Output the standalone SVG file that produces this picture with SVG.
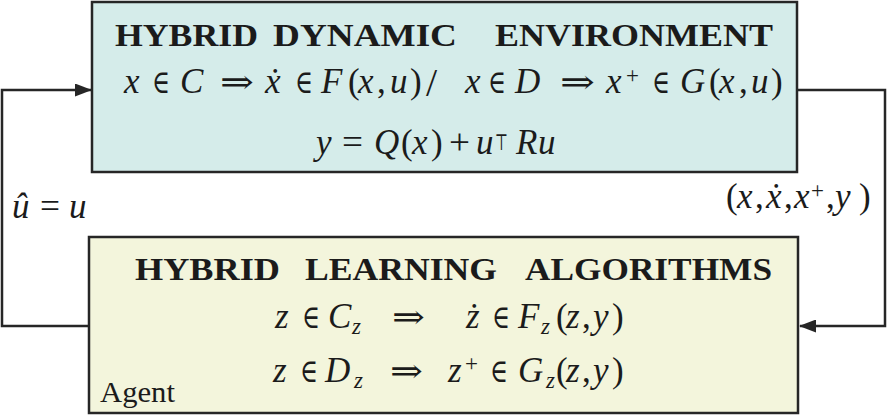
<svg xmlns="http://www.w3.org/2000/svg" width="888" height="416" viewBox="0 0 888 416">
<defs>
<style>
.t{font-family:"Liberation Serif","DejaVu Serif",serif;fill:#1b1b1b}
.mi{font-style:italic;font-size:35px}
.mr{font-size:35px}
.sy{font-family:"DejaVu Serif","Liberation Serif",serif;font-size:33px;fill:#1b1b1b}
.sp{font-size:23px}
.sb{font-style:italic;font-size:23px}
.hd{font-family:"Liberation Serif","DejaVu Serif",serif;font-weight:bold;font-size:31px;fill:#1b1b1b}
.box{stroke:#262626;stroke-width:2.5}
.wire{fill:none;stroke:#262626;stroke-width:2.5}
</style>
<marker id="ah" markerWidth="17" markerHeight="13" refX="16" refY="6.5" orient="auto" markerUnits="userSpaceOnUse">
<path d="M0,0 L17,6.5 L0,13 z" fill="#262626"/>
</marker>
</defs>
<rect width="888" height="416" fill="#ffffff"/>

<g id="connectors">
<path class="wire" d="M89,326 H2 V90 H91" marker-end="url(#ah)"/>
<path class="wire" d="M797,90 H885 V326 H800" marker-end="url(#ah)"/>
<g id="label-u">
<text class="t mi" x="12" y="218">û</text>
<text class="t mr" x="40" y="218" textLength="20" lengthAdjust="spacingAndGlyphs">=</text>
<text class="t mi" x="69" y="218">u</text>
</g>
<g id="label-state">
<text class="t" y="208"><tspan class="mr" x="726">(</tspan><tspan class="mi" x="737">x</tspan><tspan class="mr" x="755">,</tspan><tspan class="mi" x="766">ẋ</tspan><tspan class="mr" x="784">,</tspan><tspan class="mi" x="794">x</tspan><tspan class="sp" x="811" y="198">+</tspan><tspan class="mr" x="826" y="208">,</tspan><tspan class="mi" x="835">y</tspan><tspan class="mr" x="859">)</tspan></text>
</g>
</g>

<g id="env">
<rect class="box" x="92" y="2" width="705" height="170" fill="#d5ecea"/>
<text class="hd" x="115" y="46" textLength="143" lengthAdjust="spacingAndGlyphs">HYBRID</text>
<text class="hd" x="273" y="46" textLength="184" lengthAdjust="spacingAndGlyphs">DYNAMIC</text>
<text class="hd" x="495" y="46" textLength="278" lengthAdjust="spacingAndGlyphs">ENVIRONMENT</text>
<text class="t" y="93"><tspan class="mi" x="124">x</tspan><tspan class="mi" x="180">C</tspan><tspan class="mi" x="265">ẋ</tspan><tspan class="mi" x="321">F</tspan><tspan class="mr" x="348">(</tspan><tspan class="mi" x="358">x</tspan><tspan class="mr" x="377">,</tspan><tspan class="mi" x="390">u</tspan><tspan class="mr" x="410">)</tspan><tspan class="mi" x="465">x</tspan><tspan class="mi" x="515">D</tspan><tspan class="mi" x="606">x</tspan><tspan class="sp" x="626" y="83">+</tspan><tspan class="mi" x="680" y="93">G</tspan><tspan class="mr" x="709">(</tspan><tspan class="mi" x="719">x</tspan><tspan class="mr" x="739">,</tspan><tspan class="mi" x="751">u</tspan><tspan class="mr" x="771">)</tspan></text>
<text class="t" x="426" y="96" style="font-size:40px">/</text>
<text class="sy" x="152" y="93" textLength="18" lengthAdjust="spacingAndGlyphs">∈</text>
<text class="sy" x="295" y="93" textLength="18" lengthAdjust="spacingAndGlyphs">∈</text>
<text class="sy" x="488" y="93" textLength="18" lengthAdjust="spacingAndGlyphs">∈</text>
<text class="sy" x="652" y="93" textLength="18" lengthAdjust="spacingAndGlyphs">∈</text>
<text class="sy" x="220" y="93" textLength="34" lengthAdjust="spacingAndGlyphs">⇒</text>
<text class="sy" x="560" y="93" textLength="35" lengthAdjust="spacingAndGlyphs">⇒</text>
<text class="t" y="154"><tspan class="mi" x="316">y</tspan><tspan class="mi" x="374">Q</tspan><tspan class="mr" x="401">(</tspan><tspan class="mi" x="412">x</tspan><tspan class="mr" x="431">)</tspan><tspan class="mi" x="476">u</tspan><tspan class="mi" x="516">R</tspan><tspan class="mi" x="538">u</tspan></text>
<text class="t mr" x="342" y="154" textLength="21" lengthAdjust="spacingAndGlyphs">=</text>
<text class="t mr" x="449" y="154" textLength="21" lengthAdjust="spacingAndGlyphs">+</text>
<text class="sy" x="495" y="150" style="font-size:23px" textLength="13" lengthAdjust="spacingAndGlyphs">⊤</text>
</g>

<g id="agent">
<rect class="box" x="89" y="237" width="709" height="176" fill="#f3f5dc"/>
<text class="hd" x="135" y="280" textLength="145" lengthAdjust="spacingAndGlyphs">HYBRID</text>
<text class="hd" x="305" y="280" textLength="192" lengthAdjust="spacingAndGlyphs">LEARNING</text>
<text class="hd" x="525" y="280" textLength="247" lengthAdjust="spacingAndGlyphs">ALGORITHMS</text>
<text class="t" y="328"><tspan class="mi" x="275">z</tspan><tspan class="mi" x="328">C</tspan><tspan class="sb" x="352" y="334">z</tspan><tspan class="mi" x="466" y="328">ż</tspan><tspan class="mi" x="518">F</tspan><tspan class="sb" x="541" y="334">z</tspan><tspan class="mr" x="556" y="328">(</tspan><tspan class="mi" x="566">z</tspan><tspan class="mr" x="582">,</tspan><tspan class="mi" x="593">y</tspan><tspan class="mr" x="612">)</tspan></text>
<text class="sy" x="302" y="328" textLength="18" lengthAdjust="spacingAndGlyphs">∈</text>
<text class="sy" x="492" y="328" textLength="18" lengthAdjust="spacingAndGlyphs">∈</text>
<text class="sy" x="392" y="328" textLength="33" lengthAdjust="spacingAndGlyphs">⇒</text>
<text class="t" y="382"><tspan class="mi" x="273">z</tspan><tspan class="mi" x="325">D</tspan><tspan class="sb" x="354" y="388">z</tspan><tspan class="mi" x="448" y="382">z</tspan><tspan class="sp" x="465" y="371">+</tspan><tspan class="mi" x="518" y="382">G</tspan><tspan class="sb" x="546" y="388">z</tspan><tspan class="mr" x="556" y="382">(</tspan><tspan class="mi" x="566">z</tspan><tspan class="mr" x="582">,</tspan><tspan class="mi" x="593">y</tspan><tspan class="mr" x="612">)</tspan></text>
<text class="sy" x="300" y="382" textLength="18" lengthAdjust="spacingAndGlyphs">∈</text>
<text class="sy" x="490" y="382" textLength="18" lengthAdjust="spacingAndGlyphs">∈</text>
<text class="sy" x="390" y="382" textLength="33" lengthAdjust="spacingAndGlyphs">⇒</text>
<text class="t" x="100" y="402" style="font-size:30px" textLength="75" lengthAdjust="spacingAndGlyphs">Agent</text>
</g>
</svg>
